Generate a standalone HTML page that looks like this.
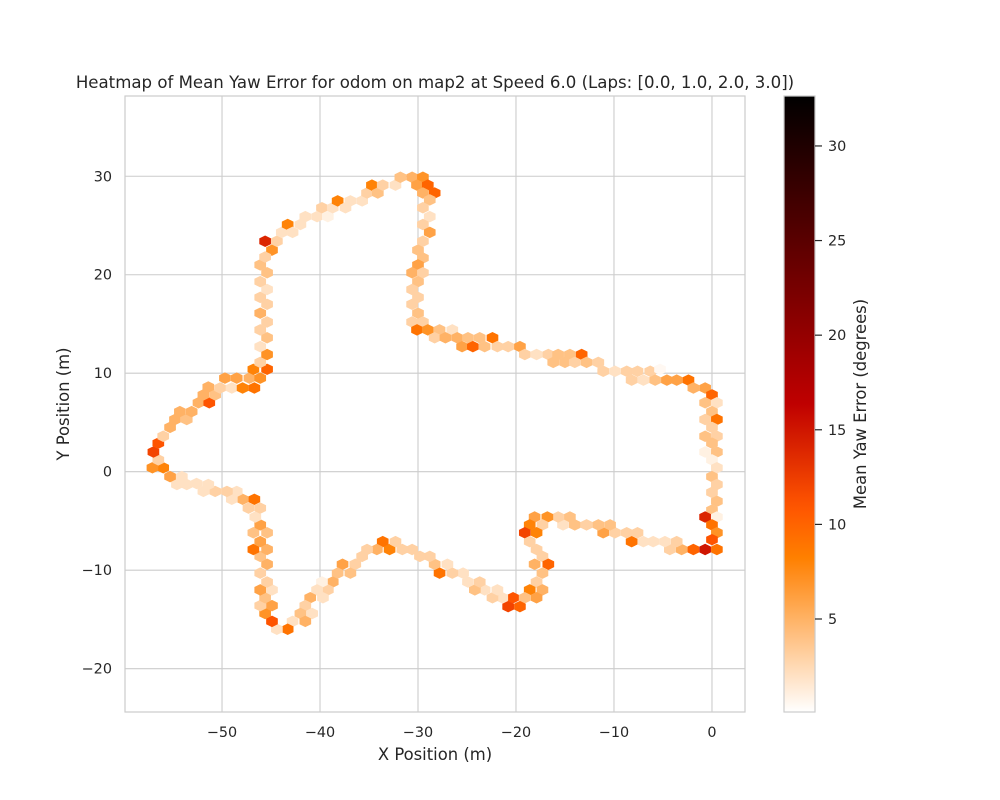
<!DOCTYPE html>
<html><head><meta charset="utf-8"><style>
body{margin:0;background:#fff;}
svg{display:block;font-family:"DejaVu Sans","Liberation Sans",sans-serif;}
</style></head><body>
<svg id="chart" width="1000" height="800" viewBox="0 0 1000 800" xmlns="http://www.w3.org/2000/svg">
<rect x="0" y="0" width="1000" height="800" fill="#fff"/>
<text x="435" y="88" text-anchor="middle" font-size="16.6" fill="#262626">Heatmap of Mean Yaw Error for odom on map2 at Speed 6.0 (Laps: [0.0, 1.0, 2.0, 3.0])</text>
<rect x="125" y="96" width="620" height="616" fill="#fff"/>
<g id="grid"></g>
<g id="hexes"></g>
<rect x="125" y="96" width="620" height="616" fill="none" stroke="#cccccc" stroke-width="1.2"/>
<g id="xticks"></g>
<g id="yticks"></g>
<text x="435" y="760" text-anchor="middle" font-size="16.4" fill="#262626">X Position (m)</text>
<text transform="translate(69,404) rotate(-90)" text-anchor="middle" font-size="16.4" fill="#262626">Y Position (m)</text>
<defs><linearGradient id="cbgrad" x1="0" y1="1" x2="0" y2="0"></linearGradient></defs>
<rect x="784" y="96" width="31" height="616" fill="url(#cbgrad)" stroke="#cccccc" stroke-width="1.2"/>
<g id="cbticks"></g>
<text transform="translate(866,404) rotate(-90)" text-anchor="middle" font-size="16.4" fill="#262626">Mean Yaw Error (degrees)</text>
</svg>
<script>
const xTicks = [-50, -40, -30, -20, -10, 0];
const yTicks = [-20, -10, 0, 10, 20, 30];
const cbTicks = [5, 10, 15, 20, 25, 30];
const xDomain = [-59.9, 3.37];
const yDomain = [-24.4, 38.15];
const cDomain = [0.085, 32.64];
const hexX = [-45.6,-44.9,-44.4,-43.9,-43.3,-42.8,-42.0,-41.5,-40.3,-39.8,-39.2,-38.7,-38.2,-37.4,-36.9,-35.7,-35.2,-34.7,-34.1,-33.6,-32.3,-31.8,-30.6,-29.5,-30.1,-29.0,-28.3,-29.5,
-28.8,-29.5,-28.8,-29.5,-28.8,-29.5,-30.0,-29.5,-30.0,-30.6,-29.5,-30.0,-30.6,-30.0,-30.6,-30.0,-30.6,-29.5,-30.1,-29.0,
-27.8,-26.5,-28.3,-27.2,-26.0,-24.9,-23.7,-22.4,-25.5,-24.4,-23.2,-21.9,-20.8,-19.6,-19.1,-17.9,-16.7,-15.7,-14.5,-13.3,-16.2,-15.0,-14.0,-12.8,-11.6,-11.1,-9.9,-8.7,-7.6,-6.3,-5.3,-8.2,-7.0,-5.8,-4.6,-3.6,-2.4,-1.9,-0.7,
0,-0.7,0.5,0,-0.7,0.5,0,-0.7,0.5,0,-0.7,0.5,0,0.5,0,0.5,0,0.5,0,0.5,-0.7,0,0.5,0,0.5,-0.7,-1.9,-3.1,-4.3,-3.6,-4.8,-6.0,-7.0,-8.2,-7.6,-8.7,-9.9,-11.1,-10.4,-11.6,-12.8,-14.0,-14.5,-15.2,-15.7,-16.8,-18.1,-17.3,-18.6,-17.9,-19.1,-18.6,-17.9,-17.3,-18.1,-16.7,-17.3,-17.9,-18.6,-17.3,-17.9,-19.1,-20.3,-20.8,-19.6,-21.4,-22.4,-21.9,-23.2,-24.2,-23.7,-24.9,-25.4,-26.5,-27.8,-27.0,-28.3,-28.8,-29.8,
-30.6,-31.6,-32.9,-32.3,-33.6,-34.2,-35.2,-35.7,-36.4,-37.7,-36.9,-38.2,-38.7,-39.2,-39.8,-40.3,-39.7,-41.0,-41.5,-40.8,-42.0,-41.5,-42.8,-43.3,-44.4,-44.9,-45.6,-44.9,-46.1,-45.6,-44.9,-46.1,-45.4,-46.1,-45.4,-46.1,-45.4,-46.8,-46.1,-45.4,-46.8,-46.1,-46.6,-46.1,-47.3,-46.7,-47.9,-49.0,-48.5,-49.5,-50.7,-51.9,-51.4,-52.6,-53.6,-54.6,-54.1,-55.3,-56.0,-57.1,-56.5,-57.0,-56.5,-56.0,-55.3,-54.8,-53.6,-54.3,-53.1,-52.4,-51.3,-51.9,-50.7,-51.4,-50.2,-49.0,-47.9,-46.7,-49.7,-48.5,-47.2,-46.1,-46.8,-45.4,
-46.1,-45.4,-46.1,-45.4,-46.1,-45.4,-46.1,-45.4,-46.1,-45.4,-46.1,-45.4,-46.1,-45.6];
const hexY = [23.4,22.5,23.4,24.3,25.1,24.3,25.1,25.9,25.9,26.8,25.9,26.8,27.5,26.8,27.5,27.5,28.3,29.1,28.3,29.1,29.1,29.9,29.9,29.9,29.1,29.1,28.3,28.3,
27.6,26.8,25.9,25.1,24.3,23.4,22.5,21.7,21.0,20.2,20.2,19.3,18.5,17.7,17.0,16.1,15.2,15.2,14.4,14.4,
14.4,14.4,13.6,13.6,13.6,13.6,13.6,13.6,12.7,12.7,12.7,12.7,12.7,12.7,11.9,11.9,11.9,11.9,11.9,11.9,11.1,11.1,11.1,11.1,11.1,10.2,10.2,10.2,10.2,10.2,10.4,9.3,9.3,9.3,9.3,9.3,9.3,8.5,8.5,
7.8,7.0,7.0,6.1,5.3,5.3,4.5,3.6,3.6,2.9,2.0,2.0,1.2,0.4,-0.5,-1.3,-2.1,-3.0,-3.9,-4.6,-4.6,-5.4,-6.2,-6.9,-7.9,-7.9,-7.9,-7.9,-7.9,-7.1,-7.1,-7.1,-7.1,-7.1,-6.2,-6.2,-6.2,-6.2,-5.4,-5.4,-5.4,-5.4,-4.6,-5.4,-4.6,-4.6,-4.6,-5.4,-5.4,-6.2,-6.2,-7.1,-7.9,-8.6,-9.4,-9.4,-10.3,-11.2,-12.0,-12.0,-12.8,-12.8,-12.8,-13.7,-13.7,-12.8,-12.8,-12.0,-12.0,-12.0,-11.2,-11.2,-10.3,-10.3,-10.3,-9.4,-9.4,-8.6,-8.6,
-7.9,-7.9,-7.9,-7.1,-7.1,-7.9,-7.9,-8.6,-9.4,-9.4,-10.3,-10.3,-11.2,-12.0,-11.2,-12.0,-12.8,-12.8,-13.6,-14.4,-14.4,-15.2,-15.2,-16.0,-16.0,-15.2,-14.4,-13.6,-13.6,-12.8,-12.0,-12.0,-11.2,-10.3,-9.4,-8.6,-7.9,-7.9,-7.1,-6.2,-6.2,-5.4,-4.6,-3.7,-3.7,-2.8,-2.8,-2.8,-2.0,-2.0,-2.0,-2.0,-1.3,-1.2,-1.3,-1.3,-0.5,-0.5,0.4,0.4,1.2,2.0,2.9,3.6,4.5,5.3,5.3,6.1,6.1,7.0,7.0,7.8,7.8,8.6,8.5,8.5,8.5,8.5,9.5,9.5,9.5,9.5,10.4,10.4,
11.1,11.9,12.7,13.6,14.4,15.2,16.1,17.0,17.7,18.5,19.3,20.2,21.0,21.8];
const hexVal = [14,7,3,2,8,2,2,2,2,3,1,2,8,2,2,2,3,8,4,3,2,4,5,7,6,10,10,5,
4,3,2,3,6,3,4,4,6,5,3,4,3,3,3,4,3,3,9,7,
4,2,3,5,5,4,4,9,6,10,4,3,3,6,3,2,3,4,4,10,4,4,3,4,3,3,2,3,3,3,0.5,3,2,4,6,6,9,5,6,
10,4,2,4,3,9,3,4,3,4,1,4,1,2,4,3,3,4,4,1,14,9,7,11,9,15,10,5,3,3,2,2,2,9,3,3,3,6,4,4,3,4,4,2,3,7,6,3,8,8,12,3,3,3,5,10,4,3,8,5,6,4,11,12,10,2,3,2,2,4,3,2,2,3,9,2,4,3,3,
3,3,8,3,9,5,3,3,3,6,4,4,5,3,1,2,2,5,3,2,4,5,2,9,2,11,7,6,3,4,2,6,3,3,5,4,5,9,6,4,4,6,2,3,3,9,5,2,2,3,3,2,2,2,2,2,2,6,8,7,3,12,11,3,5,5,4,5,5,5,11,5,4,5,3,2,8,9,6,6,5,7,8,10,
3,7,2,4,3,3,5,3,3,2,3,4,4,3];

const NS = 'http://www.w3.org/2000/svg';
const plot = {x0:125, x1:745, y0:96, y1:712};
function xScale(v){ return plot.x0 + (v - xDomain[0]) / (xDomain[1] - xDomain[0]) * (plot.x1 - plot.x0); }
function yScale(v){ return plot.y1 - (v - yDomain[0]) / (yDomain[1] - yDomain[0]) * (plot.y1 - plot.y0); }
function cScale(v){ return 712 - (v - cDomain[0]) / (cDomain[1] - cDomain[0]) * 616; }
function cmap(v){
  let t = (v - cDomain[0]) / (cDomain[1] - cDomain[0]);
  t = Math.max(0, Math.min(1, t));
  const x = 1 - t;
  const r = Math.max(0, Math.min(1, 1.5 * x));
  const g = Math.max(0, Math.min(1, 2 * x - 1));
  const b = Math.max(0, Math.min(1, 4 * x - 3));
  return 'rgb(' + Math.round(r*255) + ',' + Math.round(g*255) + ',' + Math.round(b*255) + ')';
}
function mk(tag, attrs, parent){
  const e = document.createElementNS(NS, tag);
  for (const k in attrs) e.setAttribute(k, attrs[k]);
  parent.appendChild(e);
  return e;
}
const grid = document.getElementById('grid');
xTicks.forEach(function(t){
  const l = mk('line', {x1:xScale(t), x2:xScale(t), y1:plot.y0, y2:plot.y1, stroke:'#cccccc', 'stroke-width':1.1}, grid);
  
  
  const tx = mk('text', {x:xScale(t), y:plot.y1 + 25, 'text-anchor':'middle', 'font-size':14.4, fill:'#262626'}, document.getElementById('xticks'));
  tx.textContent = t < 0 ? '\u2212' + Math.abs(t) : String(t);
  
  
});
yTicks.forEach(function(t){
  const l = mk('line', {x1:plot.x0, x2:plot.x1, y1:yScale(t), y2:yScale(t), stroke:'#cccccc', 'stroke-width':1.1}, grid);
  
  
  const tx = mk('text', {x:plot.x0 - 13, y:yScale(t) + 5, 'text-anchor':'end', 'font-size':14.4, fill:'#262626'}, document.getElementById('yticks'));
  tx.textContent = t < 0 ? '\u2212' + Math.abs(t) : String(t);
  
  
});
const sxData = 1.15, syData = 1.68;
const hexG = document.getElementById('hexes');
for (let i = 0; i < hexX.length; i++){
  const cx = xScale(hexX[i]), cy = yScale(hexY[i]);
  const hw = sxData / 2 * (plot.x1 - plot.x0) / (xDomain[1] - xDomain[0]) + 0.2;
  const hy = syData / 3 * (plot.y1 - plot.y0) / (yDomain[1] - yDomain[0]) + 0.2;
  const pts = [[hw, -hy/2], [hw, hy/2], [0, hy], [-hw, hy/2], [-hw, -hy/2], [0, -hy]]
    .map(function(p){ return (cx + p[0]).toFixed(2) + ',' + (cy + p[1]).toFixed(2); }).join(' ');
  const p = mk('polygon', {points: pts, fill: cmap(hexVal[i])}, hexG);
  
  
}
const grad = document.getElementById('cbgrad');
for (let k = 0; k <= 40; k++){
  const v = cDomain[0] + (cDomain[1] - cDomain[0]) * k / 40;
  mk('stop', {offset: (k/40*100) + '%', 'stop-color': cmap(v)}, grad);
}
const cbG = document.getElementById('cbticks');
cbTicks.forEach(function(t){
  const y = cScale(t);
  const l = mk('line', {x1:815, x2:822, y1:y, y2:y, stroke:'#262626', 'stroke-width':1.2}, cbG);
  
  
  const tx = mk('text', {x:828, y:y + 5, 'font-size':14.4, fill:'#262626'}, cbG);
  tx.textContent = String(t);
  
  
});
</script>
</body></html>
